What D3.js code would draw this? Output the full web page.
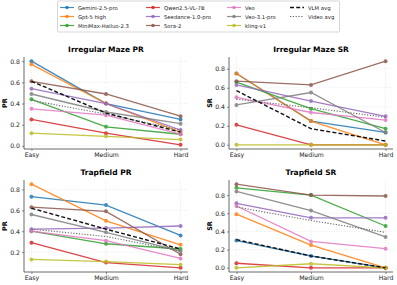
<!DOCTYPE html>
<html>
<head>
<meta charset="utf-8">
<script src="https://cdn.jsdelivr.net/npm/d3@7"></script>
<style>
body { margin: 0; background: #fff; }
svg { display: block; font-family: "DejaVu Sans", sans-serif; }
</style>
</head>
<body>
<svg id="chart" width="397" height="285"></svg>
<script>
// levels and models
const levels = ["Easy", "Medium", "Hard"]
const models = ["Gemini-2.5-pro", "Gpt-5 high", "MiniMax-Hailuo-2.3", "Qwen2.5-VL-7B",
  "Seedance-1.0-pro", "Sora-2", "Veo", "Veo-3.1-pro", "kling-v1"]
const colors = ["#1f77b4", "#ff7f0e", "#2ca02c", "#d62728", "#9467bd",
  "#8c564b", "#e377c2", "#7f7f7f", "#bcbd22"]

// values per model, same order as models
const mazePR = [
  [0.80, 0.40, 0.25], [0.77, 0.40, 0.13], [0.44, 0.18, 0.11], [0.25, 0.12, 0.01],
  [0.54, 0.40, 0.15], [0.61, 0.49, 0.28], [0.35, 0.29, 0.11], [0.49, 0.32, 0.21],
  [0.12, 0.09, 0.06]]
const mazePR_vlm = [0.61, 0.31, 0.13]
const mazePR_video = [0.43, 0.30, 0.15]

const mazeSR = [
  [0.75, 0.25, 0.13], [0.75, 0.25, 0.00], [0.66, 0.38, 0.17], [0.21, 0.00, 0.00],
  [0.63, 0.46, 0.30], [0.67, 0.63, 0.88], [0.50, 0.34, 0.26], [0.42, 0.55, 0.13],
  [0.00, 0.00, 0.00]]
const mazeSR_vlm = [0.57, 0.17, 0.04]
const mazeSR_video = [0.48, 0.39, 0.29]

const trapPR = [
  [0.73, 0.65, 0.36], [0.85, 0.50, 0.27], [0.40, 0.28, 0.23], [0.29, 0.10, 0.05],
  [0.42, 0.43, 0.45], [0.63, 0.59, 0.18], [0.40, 0.31, 0.14], [0.56, 0.39, 0.21],
  [0.13, 0.11, 0.08]]
const trapPR_vlm = [0.62, 0.42, 0.23]
const trapPR_video = [0.42, 0.35, 0.21]

const trapSR = [
  [0.30, 0.13, 0.00], [0.59, 0.25, 0.00], [0.88, 0.80, 0.46], [0.05, 0.00, 0.00],
  [0.71, 0.55, 0.55], [0.92, 0.80, 0.79], [0.68, 0.29, 0.21], [0.84, 0.63, 0.34],
  [0.00, 0.045, 0.00]]
const trapSR_vlm = [0.31, 0.13, 0.00]
const trapSR_video = [0.67, 0.52, 0.39]

const panels = [
  {title: "Irregular Maze PR", ylabel: "PR", rows: mazePR, vlm: mazePR_vlm, video: mazePR_video, x: 24, y: 57},
  {title: "Irregular Maze SR", ylabel: "SR", rows: mazeSR, vlm: mazeSR_vlm, video: mazeSR_video, x: 229, y: 57},
  {title: "Trapfield PR", ylabel: "PR", rows: trapPR, vlm: trapPR_vlm, video: trapPR_video, x: 24, y: 180},
  {title: "Trapfield SR", ylabel: "SR", rows: trapSR, vlm: trapSR_vlm, video: trapSR_video, x: 229, y: 180}
]

const pw = 164, ph = 92
const svg = d3.select("#chart")

function drawPanel(p) {
  const g = svg.append("g").attr("transform", `translate(${p.x},${p.y})`)
  const all = p.rows.flat().concat(p.vlm, p.video)
  const lo = d3.min(all), hi = d3.max(all), pad = (hi - lo) * 0.05

  // matplotlib-style 5% margins
  const x = d3.scalePoint().domain(levels).range([pw * 0.0455, pw * 0.9545]).padding(0)
  const y = d3.scaleLinear().domain([lo - pad, hi + pad]).range([ph, 0])
  const yt = y.ticks(5).filter(t => Math.abs(t * 10 % 2) < 1e-6 || Math.abs(t * 10 % 2 - 2) < 1e-6)

  // grid
  g.append("g").selectAll("line").data(yt).enter().append("line")
    .attr("x1", 0).attr("x2", pw).attr("y1", d => y(d)).attr("y2", d => y(d))
    .attr("stroke", "#dddddd").attr("stroke-width", 0.6).attr("stroke-dasharray", "1,1.5")
  g.append("g").selectAll("line").data(levels).enter().append("line")
    .attr("x1", d => x(d)).attr("x2", d => x(d)).attr("y1", 0).attr("y2", ph)
    .attr("stroke", "#dddddd").attr("stroke-width", 0.6).attr("stroke-dasharray", "1,1.5")

  const line = d3.line().x((d, i) => x(levels[i])).y(d => y(d))

  p.rows.forEach(function(r, i) {
    const s = g.append("g").attr("opacity", 0.85)
    s.append("path").datum(r).attr("d", line)
      .attr("fill", "none").attr("stroke", colors[i]).attr("stroke-width", 1.3)
    s.selectAll("circle").data(r).enter().append("circle")
      .attr("cx", (d, j) => x(levels[j])).attr("cy", d => y(d)).attr("r", 2)
      .attr("fill", colors[i])
  })

  g.append("path").datum(p.video).attr("d", line)
    .attr("fill", "none").attr("stroke", "#666").attr("stroke-width", 1.1)
    .attr("stroke-dasharray", "1.2,1.6")
  g.append("path").datum(p.vlm).attr("d", line)
    .attr("fill", "none").attr("stroke", "#111").attr("stroke-width", 1.4)
    .attr("stroke-dasharray", "4,2.2")

  // axes (left + bottom only)
  const ya = g.append("g").call(d3.axisLeft(y).tickValues(yt).tickFormat(d3.format(".1f")).tickSize(2).tickPadding(2))
  const xa = g.append("g").attr("transform", `translate(0,${ph})`)
    .call(d3.axisBottom(x).tickSize(2).tickPadding(1.5))
  ;[ya, xa].forEach(a => {
    a.select(".domain").attr("stroke", "#444").attr("stroke-width", 0.8)
    a.selectAll(".tick line").attr("stroke", "#444").attr("stroke-width", 0.6)
    a.selectAll("text").attr("font-size", 6.2).attr("fill", "#222").attr("font-family", "DejaVu Sans")
  })
  ya.select(".domain").attr("d", `M0,0V${ph}`)
  xa.select(".domain").attr("d", `M0,0H${pw}`)

  g.append("text").attr("x", pw / 2).attr("y", -5).attr("text-anchor", "middle")
    .attr("font-size", 7.5).attr("font-weight", "bold").text(p.title)
  g.append("text").attr("transform", `translate(-17.5,${ph / 2}) rotate(-90)`)
    .attr("text-anchor", "middle").attr("font-size", 6.5).attr("font-weight", "bold").text(p.ylabel)
}

panels.forEach(drawPanel)

// legend
const leg = svg.append("g").attr("transform", "translate(57,1)")
leg.append("rect").attr("x", 0.5).attr("y", 0).attr("width", 282).attr("height", 31)
  .attr("fill", "#fff").attr("stroke", "#ccc").attr("stroke-width", 0.8).attr("rx", 1)
const legItems = models.map((m, i) => ({name: m, color: colors[i], type: "model"}))
  .concat([{name: "VLM avg", type: "vlm"}, {name: "Video avg", type: "video"}])
const colX = [3, 89, 170, 233]
legItems.forEach(function(d, i) {
  let col, row
  if (i < 9) { col = Math.floor(i / 3); row = i % 3 } else { col = 3; row = i - 9 }
  const gx = colX[col], gy = 6.5 + row * 9
  const it = leg.append("g").attr("transform", `translate(${gx},${gy})`)
  if (d.type === "model") {
    it.append("line").attr("x1", 0).attr("x2", 14).attr("stroke", d.color)
      .attr("stroke-width", 1.2).attr("opacity", 0.85)
    it.append("circle").attr("cx", 7).attr("r", 1.8).attr("fill", d.color).attr("opacity", 0.85)
  } else if (d.type === "vlm") {
    it.append("line").attr("x1", 0).attr("x2", 14).attr("stroke", "#111")
      .attr("stroke-width", 1.4).attr("stroke-dasharray", "4,2.2")
  } else {
    it.append("line").attr("x1", 0).attr("x2", 14).attr("stroke", "#666")
      .attr("stroke-width", 1.1).attr("stroke-dasharray", "1.2,1.6")
  }
  it.append("text").attr("x", 18).attr("y", 2).attr("font-size", 5.3).attr("fill", "#222").text(d.name)
})
</script>
</body>
</html>
